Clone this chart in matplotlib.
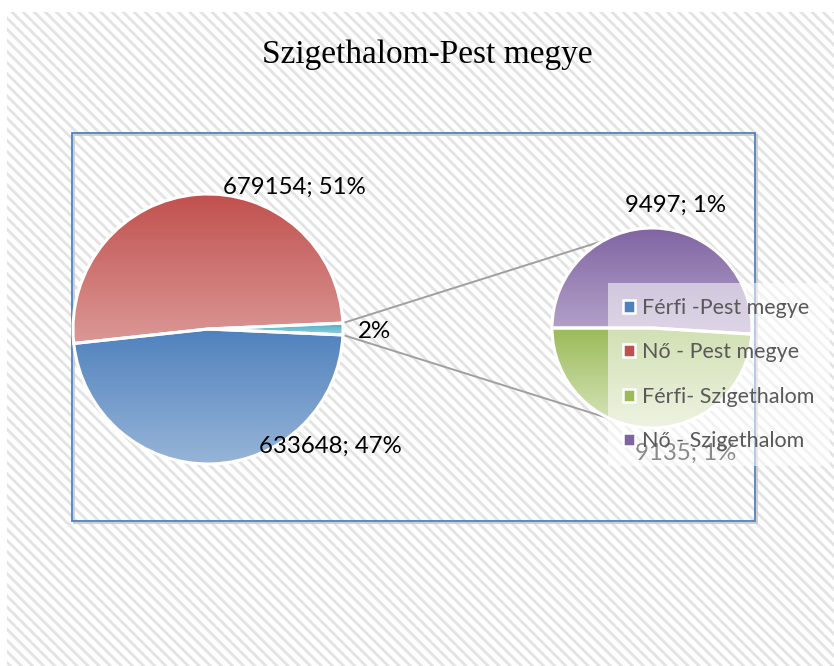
import numpy as np
import matplotlib
matplotlib.use("Agg")
import matplotlib.pyplot as plt
from matplotlib.patches import Rectangle, Patch

plt.rcParams["hatch.linewidth"] = 2.0

# ---------------- data ----------------
title = "Szigethalom-Pest megye"
categories = ["Férfi -Pest megye", "Nő - Pest megye", "Férfi- Szigethalom", "Nő - Szigethalom"]
values = [633648, 679154, 9135, 9497]
main_pct_labels = ["47%", "51%"]          # as shown in the chart
other_pct_label = "2%"
sub_pct_labels = ["1%", "1%"]

# colours (top, bottom of gradient)
grad_colors = {
    "Férfi -Pest megye": ((79, 129, 189), (151, 181, 216)),
    "Nő - Pest megye": ((192, 80, 77), (219, 152, 150)),
    "other": ((75, 172, 198), (150, 208, 222)),
    "Férfi- Szigethalom": ((155, 187, 89), (218, 230, 192)),
    "Nő - Szigethalom": ((128, 100, 162), (181, 164, 202)),
}
legend_colors = ["#4F81BD", "#C0504D", "#9BBB59", "#8064A2"]

W, H = 834, 666
def Y(y):
    return H - y

fig = plt.figure(figsize=(W / 100, H / 100), dpi=100)
fig.patch.set_facecolor("white")

# hatched chart-area background
bg = Rectangle((7 / W, 0), 1 - 7 / W, (H - 12) / H, transform=fig.transFigure,
               facecolor="white", edgecolor="#E3E3E3", linewidth=0, hatch="\\\\\\", zorder=-5)
fig.patches.append(bg)

ax = fig.add_axes([0, 0, 1, 1])
ax.set_zorder(1)
ax.patch.set_alpha(0)

# plot-area border (with faint shadow)
ax.add_patch(Rectangle((74, Y(523)), 755 - 72, 521 - 133, fill=False,
                       edgecolor="#C8C8C8", linewidth=1.2, zorder=0.5))
ax.add_patch(Rectangle((72, Y(521)), 755 - 72, 521 - 133, fill=False,
                       edgecolor="#4F81BD", linewidth=1.3, zorder=0.6))

total = sum(values)
other = values[2] + values[3]

# -------- main pie --------
main_center = (208, Y(329))
main_r = 135
main_vals = [other, values[1], values[0]]
main_keys = ["other", categories[1], categories[0]]
start_main = -other / total * 360 / 2
wedges_main, _ = ax.pie(main_vals, center=main_center, radius=main_r,
                        startangle=start_main, counterclock=True,
                        wedgeprops=dict(facecolor="none", edgecolor="white", linewidth=2.2, zorder=3))

# -------- secondary pie --------
sub_center = (652, Y(328))
sub_r = 100
sub_vals = [values[2], values[3]]
sub_keys = [categories[2], categories[3]]
wedges_sub, _ = ax.pie(sub_vals, center=sub_center, radius=sub_r,
                       startangle=180, counterclock=True,
                       wedgeprops=dict(facecolor="none", edgecolor="white", linewidth=2.2, zorder=3))


def fill_gradient(w, key):
    top, bot = grad_colors[key]
    v = w.get_path().vertices
    xmin, xmax = v[:, 0].min(), v[:, 0].max()
    ymin, ymax = v[:, 1].min(), v[:, 1].max()
    t = np.linspace(0, 1, 256)[:, None]
    top = np.array(top) / 255
    bot = np.array(bot) / 255
    grad = bot[None, :] * (1 - t) + top[None, :] * t
    img = grad[:, None, :]
    im = ax.imshow(img, extent=(xmin, xmax, ymin, ymax), origin="lower",
                   aspect="auto", interpolation="bilinear", zorder=2)
    im.set_clip_path(w)


for w, k in zip(wedges_main, main_keys):
    fill_gradient(w, k)
for w, k in zip(wedges_sub, sub_keys):
    fill_gradient(w, k)

# -------- connector lines --------
w_other = wedges_main[0]
for ang_main, ang_sub in [(w_other.theta2, 119.5), (w_other.theta1, -115.0)]:
    p1 = (main_center[0] + main_r * np.cos(np.radians(ang_main)),
          main_center[1] + main_r * np.sin(np.radians(ang_main)))
    p2 = (sub_center[0] + sub_r * np.cos(np.radians(ang_sub)),
          sub_center[1] + sub_r * np.sin(np.radians(ang_sub)))
    ax.plot([p1[0], p2[0]], [p1[1], p2[1]], color="#A0A0A0", linewidth=1.4, zorder=1.5,
            solid_capstyle="butt")

# -------- labels --------
lab_font = dict(family="Lato", fontsize=17.3, color="black", ha="center", va="center")
ax.text(294, Y(187), f"{values[1]}; {main_pct_labels[1]}", zorder=5, **lab_font)
ax.text(330, Y(446), f"{values[0]}; {main_pct_labels[0]}", zorder=5, **lab_font)
ax.text(374, Y(331), other_pct_label, zorder=5, **lab_font)
ax.text(676, Y(205), f"{values[3]}; {sub_pct_labels[1]}", zorder=5, **lab_font)
ax.text(686, Y(453), f"{values[2]}; {sub_pct_labels[0]}", zorder=5, **lab_font)

# -------- title --------
ax.text(427, Y(55), title, family="Liberation Serif", fontsize=24,
        ha="center", va="center", color="black", zorder=5)

# -------- legend --------
handles = [Patch(facecolor=c, edgecolor="white", linewidth=1.8) for c in legend_colors]
leg = ax.legend(handles, categories, loc="upper left",
                bbox_to_anchor=(608, Y(283)), bbox_transform=ax.transData,
                prop=dict(family="Lato", size=15.5), labelcolor="#595959",
                frameon=True, fancybox=False, framealpha=0.55, facecolor="white",
                edgecolor="none", borderpad=0.7, handlelength=0.56, handleheight=0.56,
                handletextpad=0.33, labelspacing=1.13, borderaxespad=0)
leg.set_zorder(10)

ax.set_xlim(0, W)
ax.set_ylim(0, H)
ax.set_aspect("auto")
ax.axis("off")

fig.savefig("out.png", dpi=100)
